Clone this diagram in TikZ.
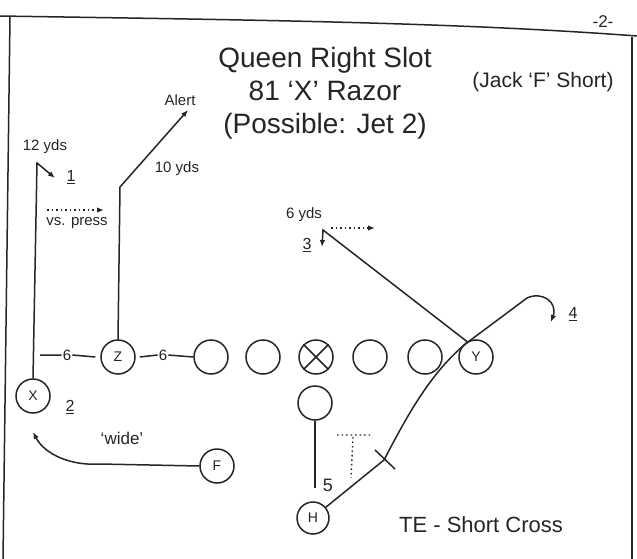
\documentclass[tikz,border=0pt]{standalone}
\usepackage{fontspec}
\setmainfont{Liberation Sans}
\usetikzlibrary{arrows.meta}
\definecolor{ink}{HTML}{252525}
\begin{document}
\begin{tikzpicture}[x=1pt,y=-1pt,
  every node/.style={text=ink},
  line/.style={draw=ink,line width=1.5pt},
  player/.style={circle,draw=ink,line width=1.5pt,minimum size=34pt,inner sep=0pt,font=\fontsize{14}{14}\selectfont},
  tip/.style={-{Latex[length=7pt,width=5.5pt]}},
  small/.style={font=\fontsize{15}{15}\selectfont,inner sep=1pt},
  mid/.style={font=\fontsize{18}{18}\selectfont,inner sep=1pt},
  dots/.style={draw=ink,line width=1.4pt,dash pattern=on 1.5pt off 3pt}
]
\useasboundingbox (0,0) rectangle (637,559);
\fill[white] (0,0) rectangle (637,559);
% frame
\draw[line] (0,16) .. controls (250,20) and (450,22) .. (637,36);
\draw[line] (10,17) -- (3,559);
\draw[line] (632,37) -- (632,559);
\node[font=\fontsize{17}{17}\selectfont,inner sep=0pt] (pg) at (603,22) {-2-};
% titles
\node[align=center,font=\fontsize{28}{33}\selectfont,inner sep=0pt] (title) at (325,93)
  {Queen Right Slot\\81 `X' Razor\\(Possible: Jet 2)};
\node[font=\fontsize{21}{21}\selectfont,inner sep=0pt] (jack) at (543,82) {(Jack `F' Short)};
% players
\node[player] (Z) at (118,357) {Z};
\node[player] (g1) at (211,357) {};
\node[player] (g2) at (263,357) {};
\node[player] (C) at (316,357) {};
\node[player] (g3) at (370,357) {};
\node[player] (g4) at (425,357) {};
\node[player] (Y) at (476,357) {Y};
\node[player] (X) at (33,396) {X};
\node[player] (Q) at (315,403) {};
\node[player,minimum size=32pt] (H) at (313,518) {H};
\node[player] (F) at (217,466) {F};
\draw[line] (C.45) -- (C.225) (C.135) -- (C.315);
% LOS spacing marks
\node[small] (s1) at (67,355) {6};
\node[small] (s2) at (163,355) {6};
\coordinate (xl) at (40,355);
\draw[line] (xl) -- (s1.west) (s1.east) -- ([xshift=-5pt]Z.west);
\draw[line] ([xshift=4pt]Z.east) -- (s2.west) (s2.east) -- (g1.west);
% X route
\coordinate (xtop) at (37,163);
\coordinate (xend) at (55,178);
\draw[line,tip] (X.north) -- (xtop) -- (xend);
\node[small] (yds12) at (45,147) {12 yds};
\node[mid,font=\fontsize{16}{16}\selectfont] (n1) at (71,177) {\underline{1}};
\coordinate (p1) at (47,210);
\coordinate (p2) at (104,210);
\draw[dots,tip] (p1) -- (p2);
\node[small] (press) at (77,223) {vs. press};
% Z route
\coordinate (zb) at (120,187);
\coordinate (za) at (188,110);
\draw[line,tip] (Z.north) -- (zb) -- (za);
\node[small] (alert) at (180,100) {Alert};
\node[small] (yds10) at (177,169) {10 yds};
% Y route
\coordinate (yt) at (323,230);
\coordinate (yb) at (322,247);
\draw[line,tip] (Y.120) -- (yt) -- (yb);
\node[small] (yds6) at (304,215) {6 yds};
\node[mid,font=\fontsize{16}{16}\selectfont] (n3) at (307,245) {\underline{3}};
\coordinate (d1) at (331,228);
\coordinate (d2) at (375,228);
\draw[dots,tip] (d1) -- (d2);
% H route
\coordinate (hk) at (384,460);
\coordinate (hm) at (468,342);
\coordinate (hh) at (527,298);
\coordinate (he) at (551,322);
\draw[line,tip] (H.40) -- (hk) .. controls (405,420) and (430,372) .. (hm) -- (hh)
  .. controls (542,291) and (558,302) .. (he);
\coordinate (t1) at (375,450);
\coordinate (t2) at (395,469);
\draw[line] (t1) -- (t2);
\node[mid,font=\fontsize{16}{16}\selectfont] (n4) at (573,314) {\underline{4}};
\coordinate (q1) at (337,435);
\coordinate (q2) at (372,435);
\coordinate (q3) at (353,437);
\coordinate (q4) at (351,478);
\draw[dots] (q1) -- (q2) (q3) -- (q4);
\coordinate (qb) at (315,488);
\draw[line] (Q.south) -- (qb);
\node[mid] (five) at (328,485) {5};
\node[font=\fontsize{22}{22}\selectfont,inner sep=0pt] (te) at (481,525) {TE - Short Cross};
% F route
\coordinate (fc) at (100,464);
\coordinate (fe) at (33,432);
\draw[line,tip] (F.west) -- (fc) .. controls (72,466) and (45,455) .. (fe);
\node[mid,font=\fontsize{17}{17}\selectfont] (wide) at (122,438) {`wide'};
\node[mid,font=\fontsize{16}{16}\selectfont] (n2) at (70,407) {\underline{2}};
\end{tikzpicture}
\end{document}
